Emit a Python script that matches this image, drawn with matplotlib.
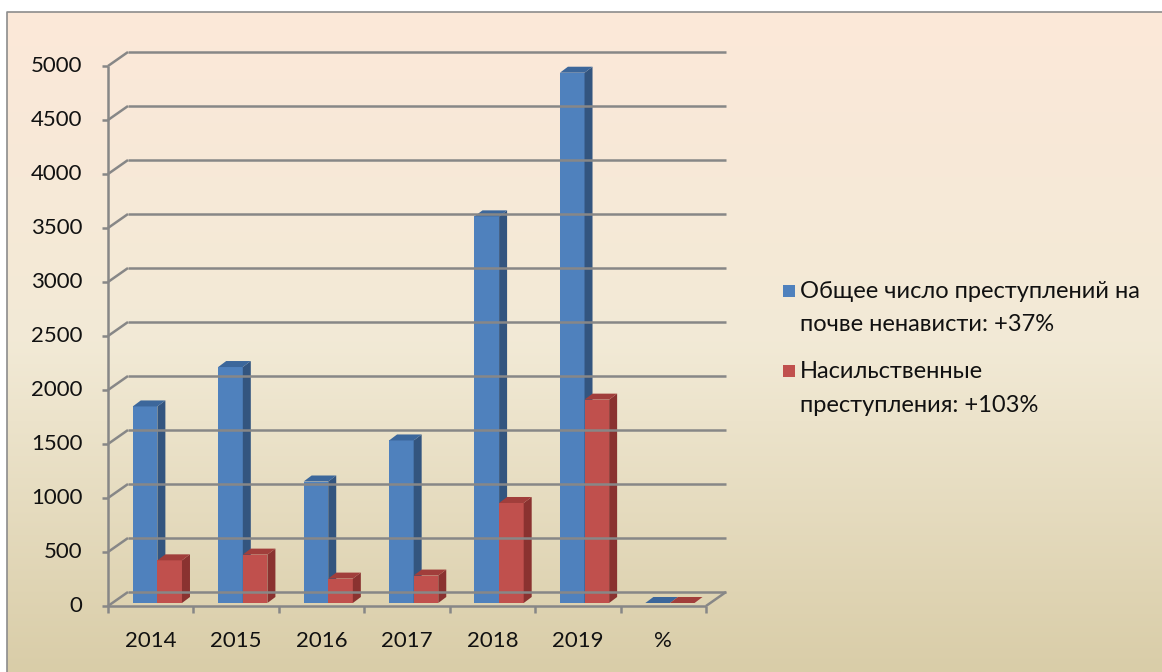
import matplotlib.pyplot as plt
import numpy as np
from matplotlib.patches import Polygon, Rectangle
from matplotlib.lines import Line2D
from matplotlib.transforms import IdentityTransform

categories = ["2014", "2015", "2016", "2017", "2018", "2019", "%"]
total_crimes = [1820, 2185, 1125, 1505, 3580, 4910, 0]
violent_crimes = [395, 448, 226, 254, 926, 1883, 0]
series_labels = ["Общее число преступлений на\nпочве ненависти: +37%",
                 "Насильственные\nпреступления: +103%"]
yticks = np.arange(0, 5001, 500)

plt.rcParams['font.family'] = ['Lato', 'DejaVu Sans']

W, H = 1162, 672
fig = plt.figure(figsize=(W / 100, H / 100), dpi=100)
fig.patch.set_facecolor('white')

# gradient background inside the frame
bg = fig.add_axes([7 / W, 0, 1 - 7 / W, (H - 12) / H])
top = np.array([252, 232, 217]) / 255
mid = np.array([242, 234, 214]) / 255
bot = np.array([217, 205, 168]) / 255
t = np.linspace(0, 1, 300)[:, None]
grad = np.where(t < 0.5, top + (mid - top) * (t / 0.5), mid + (bot - mid) * ((t - 0.5) / 0.5))
bg.imshow(grad[:, None, :], aspect='auto', extent=[0, 1, 0, 1])
bg.set_axis_off()
fig.add_artist(Line2D([7 / W, 7 / W, 1], [0, (H - 12) / H, (H - 12) / H],
                      transform=fig.transFigure, color='#8c8c8c', lw=1.2))

ax = fig.add_axes([108 / W, (H - 606) / H, 598 / W, 540 / H])
ax.set_xlim(0, len(categories))
ax.set_ylim(0, 5000)
ax.set_axis_off()

back = np.array([20, 14])      # back wall offset, px
bar_off = np.array([0, 3])     # bar plane offset, px
depth = np.array([8, 6])       # bar depth, px
grid_c = '#878787'


def px(x, y, off=(0, 0)):
    return ax.transData.transform((x, y)) + np.asarray(off)


def seg(p, q, **kw):
    fig.add_artist(Line2D([p[0], q[0]], [p[1], q[1]], transform=IdentityTransform(),
                          color=grid_c, lw=1.8, solid_capstyle='butt', **kw))


n = len(categories)
# gridlines on back wall + diagonals to front axis
for v in yticks:
    seg(px(0, v, back), px(n, v, back))
    seg(px(0, v), px(0, v, back))
    seg(px(0, v, (-6, 0)), px(0, v))
    ax.text(-0.30, v, f"{v}", ha='right', va='center', fontsize=16, color='#111111')
seg(px(0, 0), px(0, 5000))
# floor
seg(px(0, 0), px(n, 0))
seg(px(n, 0), px(n, 0, back))
for i in range(n + 1):
    seg(px(i, 0), px(i, 0, (0, -7)))
for i, c in enumerate(categories):
    ax.text(i + 0.5, -320, c, ha='center', va='center', fontsize=16, color='#111111')

colors = [('#4F81BD', '#33557F', '#3C679B'), ('#C0504D', '#8A3230', '#A13E3B')]
bw = 0.288
for i in range(n):
    for s, vals in enumerate([total_crimes, violent_crimes]):
        v = vals[i]
        x0 = i + 0.29 + s * bw
        x1 = x0 + bw
        front, side, topc = colors[s]
        a, b = px(x0, 0, bar_off), px(x1, 0, bar_off)
        c, d = px(x1, v, bar_off), px(x0, v, bar_off)
        if v > 0:
            fig.add_artist(Polygon([a, b, c, d], closed=True, transform=IdentityTransform(),
                                   fc=front, ec='none'))
            fig.add_artist(Polygon([b, b + depth, c + depth, c], closed=True,
                                   transform=IdentityTransform(), fc=side, ec='none'))
        fig.add_artist(Polygon([d, c, c + depth, d + depth], closed=True,
                               transform=IdentityTransform(), fc=topc, ec='none'))

# legend
for s, lab in enumerate(series_labels):
    yc = 291 + s * 80
    fig.add_artist(Rectangle((783 / W, 1 - (yc + 6) / H), 12 / W, 12 / H,
                             transform=fig.transFigure, fc=colors[s][0], ec='none'))
    for k, line in enumerate(lab.split("\n")):
        fig.text(800 / W, 1 - (yc + 34 * k) / H, line, ha='left', va='center',
                 fontsize=17, color='#111111')

fig.savefig("out.png", dpi=100)
